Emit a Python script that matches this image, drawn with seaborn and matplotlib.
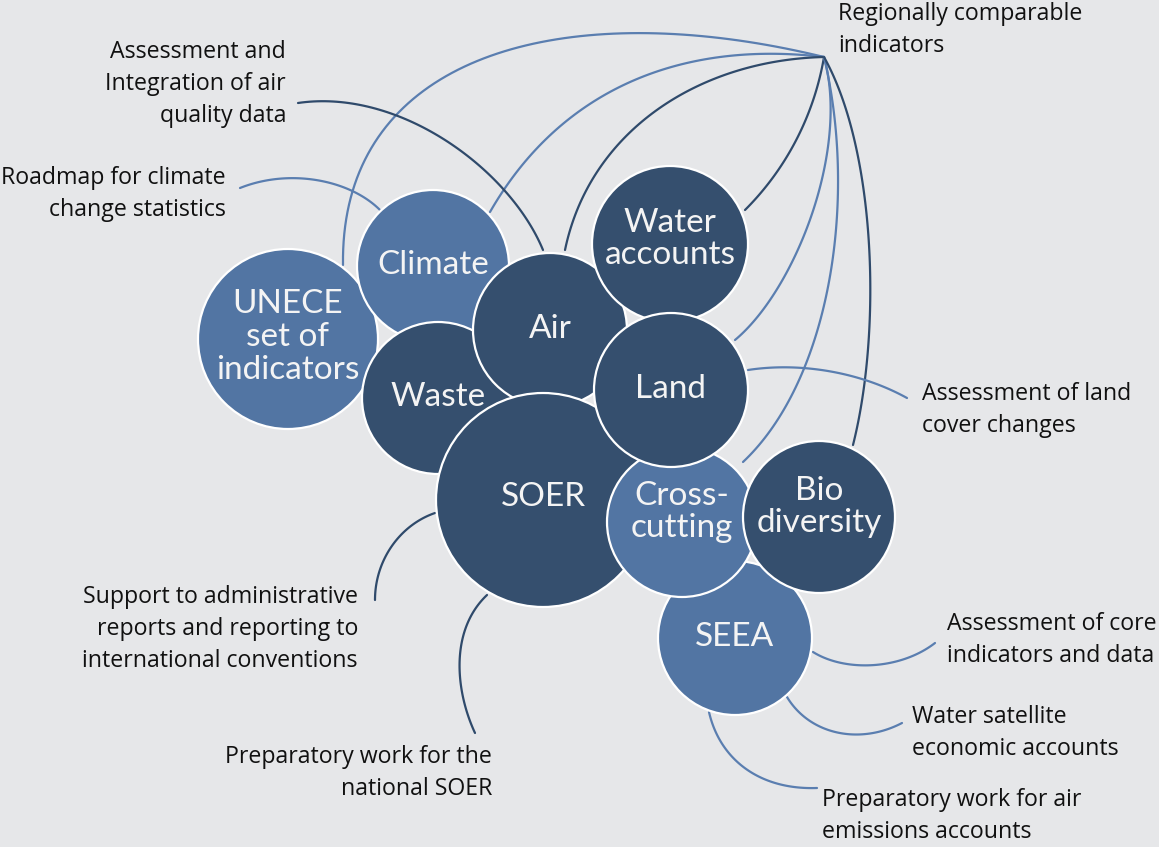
import numpy as np
import pandas as pd
import matplotlib
matplotlib.use("Agg")
import matplotlib.pyplot as plt
from matplotlib.patches import Circle
import seaborn as sns

# bubbles: name, centre and radius (pixel units of the original picture), tone
bubble_names = ["UNECE\nset of\nindicators", "Climate", "Waste", "Air", "Water\naccounts",
                "SOER", "SEEA", "Cross-\ncutting", "Bio\ndiversity", "Land"]
bubble_x = [288, 433, 438, 550, 670, 543, 735, 682, 819, 671]
bubble_y = [339, 266, 398, 330, 244, 500, 638, 522, 517, 390]
bubble_r = [90, 76, 76, 77, 78, 107, 77, 75, 76, 77]
bubble_tone = ["light", "light", "dark", "dark", "dark", "dark", "light", "light", "dark", "dark"]

# outer labels
label_text = ["Assessment and\nIntegration of air\nquality data",
              "Roadmap for climate\nchange statistics",
              "Regionally comparable\nindicators",
              "Assessment of land\ncover changes",
              "Support to administrative\nreports and reporting to\ninternational conventions",
              "Preparatory work for the\nnational SOER",
              "Assessment of core\nindicators and data",
              "Water satellite\neconomic accounts",
              "Preparatory work for air\nemissions accounts"]

BG = "#e6e7e9"
DARK = "#354f6e"
LIGHT = "#5275a3"
LINE_DARK = "#2f4a6b"
LINE_LIGHT = "#5a7eb0"

sns.set_theme(style="white", rc={"axes.facecolor": BG, "figure.facecolor": BG})


def bezier(p0, p1, p2, p3, n=80):
    t = np.linspace(0, 1, n)[:, None]
    pts = ((1 - t) ** 3) * np.array(p0) + 3 * ((1 - t) ** 2) * t * np.array(p1) \
        + 3 * (1 - t) * t ** 2 * np.array(p2) + t ** 3 * np.array(p3)
    return pts[:, 0], pts[:, 1]


hub = (824, 57)
connectors = [
    # from "Regionally comparable indicators"
    ((343, 265), (340, 50), (570, -5), hub, LINE_LIGHT),
    ((490, 212), (560, 90), (680, 40), hub, LINE_LIGHT),
    ((565, 250), (590, 130), (700, 60), hub, LINE_DARK),
    ((745, 210), (790, 165), (815, 110), hub, LINE_DARK),
    ((735, 340), (795, 290), (850, 150), hub, LINE_LIGHT),
    ((743, 462), (830, 380), (858, 200), hub, LINE_LIGHT),
    ((853, 445), (882, 330), (876, 150), hub, LINE_DARK),
    # single links
    ((298, 103), (400, 88), (510, 170), (543, 250), LINE_DARK),
    ((240, 188), (290, 168), (350, 180), (380, 210), LINE_LIGHT),
    ((748, 370), (800, 362), (860, 372), (907, 398), LINE_LIGHT),
    ((375, 600), (375, 560), (400, 525), (435, 513), LINE_DARK),
    ((475, 733), (455, 690), (450, 630), (487, 595), LINE_DARK),
    ((813, 652), (845, 672), (900, 670), (935, 643), LINE_LIGHT),
    ((787, 697), (810, 735), (860, 745), (902, 723), LINE_LIGHT),
    ((709, 712), (720, 760), (760, 790), (817, 788), LINE_LIGHT),
]

# small vertical nudges of the bubble captions
caption_dy = {"Water\naccounts": -5, "Cross-\ncutting": -10, "Bio\ndiversity": -10,
              "SOER": -3, "UNECE\nset of\nindicators": -2}

fig = plt.figure(figsize=(11.59, 8.47), dpi=100)
ax = fig.add_axes([0, 0, 1, 1])

for p0, p1, p2, p3, col in connectors:
    cx, cy = bezier(p0, p1, p2, p3)
    sns.lineplot(x=cx, y=cy, sort=False, estimator=None, color=col, lw=1.6, ax=ax, zorder=1)

df = pd.DataFrame({"name": bubble_names, "x": bubble_x, "y": bubble_y,
                   "r": bubble_r, "tone": bubble_tone})
for i, row in df.iterrows():
    fc = DARK if row.tone == "dark" else LIGHT
    ax.add_patch(Circle((row.x, row.y), row.r, facecolor=fc, edgecolor="white",
                        lw=1.6, zorder=2 + i))
    ax.text(row.x, row.y + caption_dy.get(row["name"], -1), row["name"], color="#f4f4f4",
            fontsize=24, family=["Lato", "DejaVu Sans"], ha="center", va="center",
            linespacing=1.12, zorder=20)

lab_kw = dict(fontsize=16.7, family=["Open Sans", "DejaVu Sans"], color="#111111",
              va="center", linespacing=1.42, zorder=30)
ax.text(286, 84, label_text[0], ha="right", multialignment="right", **lab_kw)
ax.text(226, 194, label_text[1], ha="right", multialignment="right", **lab_kw)
ax.text(838, 30, label_text[2], ha="left", **lab_kw)
ax.text(922, 410, label_text[3], ha="left", **lab_kw)
ax.text(358, 629, label_text[4], ha="right", multialignment="right", **lab_kw)
ax.text(492, 773, label_text[5], ha="right", multialignment="right", **lab_kw)
ax.text(947, 640, label_text[6], ha="left", **lab_kw)
ax.text(912, 733, label_text[7], ha="left", **lab_kw)
ax.text(822, 816, label_text[8], ha="left", **lab_kw)

ax.set_xlim(0, 1159)
ax.set_ylim(847, 0)
ax.set_aspect("equal")
ax.axis("off")
fig.savefig("out.png", dpi=100, facecolor=BG)
